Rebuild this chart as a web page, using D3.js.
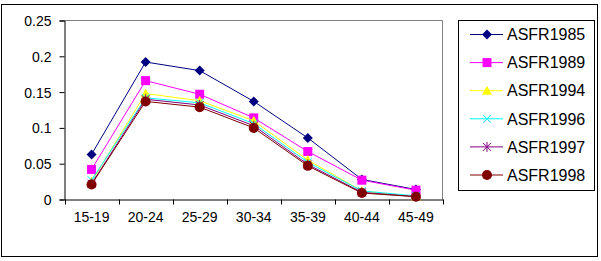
<!DOCTYPE html>
<html>
<head>
<meta charset="utf-8">
<script src="https://cdn.jsdelivr.net/npm/d3@7"></script>
<style>
  body { margin: 0; background: #fff; }
  text { font-family: "Liberation Sans", Arial, sans-serif; fill: #000; }
</style>
</head>
<body>
<svg id="chart" width="601" height="261"></svg>
<script>
// age groups and series
var ageGroups = ["15-19", "20-24", "25-29", "30-34", "35-39", "40-44", "45-49"]
var seriesNames = ["ASFR1985", "ASFR1989", "ASFR1994", "ASFR1996", "ASFR1997", "ASFR1998"]
var asfr1985 = [0.063, 0.192, 0.180, 0.137, 0.086, 0.028, 0.014]
var asfr1989 = [0.042, 0.166, 0.147, 0.114, 0.067, 0.027, 0.013]
var asfr1994 = [0.025, 0.148, 0.138, 0.110, 0.055, 0.012, 0.004]
var asfr1996 = [0.027, 0.142, 0.135, 0.106, 0.052, 0.012, 0.005]
var asfr1997 = [0.022, 0.140, 0.132, 0.103, 0.049, 0.010, 0.004]
var asfr1998 = [0.021, 0.137, 0.129, 0.100, 0.047, 0.009, 0.004]
var yTicks = [0, 0.05, 0.1, 0.15, 0.2, 0.25]

var allValues = [asfr1985, asfr1989, asfr1994, asfr1996, asfr1997, asfr1998]
var colors = ["#000080", "#ff00ff", "#ffff00", "#00ffff", "#800080", "#800000"]
var shapes = ["diamond", "square", "triangle", "cross", "star", "circle"]

var svg = d3.select("#chart")

// outer frame
svg.append("rect")
    .attr("x", 1.5).attr("y", 4.5)
    .attr("width", 596).attr("height", 252)
    .attr("fill", "none").attr("stroke", "#000")

var plot = {left: 64.5, right: 443, top: 20.5, bottom: 199.5}

var x = d3.scaleBand().domain(ageGroups).range([plot.left, plot.right])
var y = d3.scaleLinear().domain([0, 0.25]).range([plot.bottom, plot.top])

// gray top and right edges of the plot area
svg.append("path")
    .attr("d", "M" + plot.left + "," + plot.top + "H" + (plot.right - 0.5) + "V" + plot.bottom)
    .attr("fill", "none").attr("stroke", "#808080")

var yAxis = svg.append("g")
    .attr("transform", "translate(" + plot.left + ",0)")
    .call(d3.axisLeft(y).tickValues(yTicks).tickSize(5).tickPadding(8)
        .tickFormat(function(d){ return String(+d.toFixed(2)) }))
yAxis.selectAll("text").style("font-size", "14px").attr("dy", "0.35em")

var xAxis = svg.append("g")
    .attr("transform", "translate(0," + plot.bottom + ")")
    .call(d3.axisBottom(x).tickSize(0).tickPadding(13))
xAxis.selectAll("text").style("font-size", "14px")

// ticks between categories
svg.append("g").selectAll("line")
    .data(d3.range(ageGroups.length + 1))
    .enter().append("line")
    .attr("x1", function(i){ return Math.round(plot.left + i * x.step()) + 0.5 })
    .attr("x2", function(i){ return Math.round(plot.left + i * x.step()) + 0.5 })
    .attr("y1", plot.bottom).attr("y2", plot.bottom + 5)
    .attr("stroke", "#000")

svg.selectAll(".domain").attr("stroke", "#000")
svg.selectAll(".tick line").attr("stroke", "#000")

function drawMarker(g, shape, color, cx, cy) {
    if (shape == "diamond") {
        g.append("path").attr("d", "M" + cx + "," + (cy - 5) + "L" + (cx + 5) + "," + cy +
            "L" + cx + "," + (cy + 5) + "L" + (cx - 5) + "," + cy + "Z").attr("fill", color)
    } else if (shape == "square") {
        g.append("rect").attr("x", cx - 4.5).attr("y", cy - 4.5)
            .attr("width", 9).attr("height", 9).attr("fill", color)
    } else if (shape == "triangle") {
        g.append("path").attr("d", "M" + cx + "," + (cy - 5) + "L" + (cx + 5) + "," + (cy + 4) +
            "L" + (cx - 5) + "," + (cy + 4) + "Z").attr("fill", color)
    } else if (shape == "cross") {
        g.append("path").attr("d", "M" + (cx - 4) + "," + (cy - 4) + "L" + (cx + 4) + "," + (cy + 4) +
            "M" + (cx + 4) + "," + (cy - 4) + "L" + (cx - 4) + "," + (cy + 4))
            .attr("stroke", color).attr("fill", "none")
    } else if (shape == "star") {
        g.append("path").attr("d", "M" + (cx - 4) + "," + (cy - 4) + "L" + (cx + 4) + "," + (cy + 4) +
            "M" + (cx + 4) + "," + (cy - 4) + "L" + (cx - 4) + "," + (cy + 4) +
            "M" + cx + "," + (cy - 5) + "L" + cx + "," + (cy + 5))
            .attr("stroke", color).attr("fill", "none")
    } else {
        g.append("circle").attr("cx", cx).attr("cy", cy).attr("r", 5).attr("fill", color)
    }
}

var line = d3.line()
    .x(function(d, i){ return x(ageGroups[i]) + x.bandwidth() / 2 })
    .y(function(d){ return y(d) })

for (var s = 0; s < allValues.length; s++) {
    var g = svg.append("g")
    g.append("path")
        .attr("d", line(allValues[s]))
        .attr("fill", "none").attr("stroke", colors[s]).attr("stroke-width", 1)
    for (var i = 0; i < ageGroups.length; i++) {
        drawMarker(g, shapes[s], colors[s], x(ageGroups[i]) + x.bandwidth() / 2, y(allValues[s][i]))
    }
}

// legend
var legend = svg.append("g")
legend.append("rect")
    .attr("x", 458.5).attr("y", 20.5)
    .attr("width", 136).attr("height", 170)
    .attr("fill", "none").attr("stroke", "#000")

for (var s = 0; s < seriesNames.length; s++) {
    var ly = 34.5 + s * 28.1
    var lg = legend.append("g")
    lg.append("line").attr("x1", 470).attr("x2", 503).attr("y1", ly).attr("y2", ly)
        .attr("stroke", colors[s])
    drawMarker(lg, shapes[s], colors[s], 487, ly)
    lg.append("text").attr("x", 507).attr("y", ly).attr("dy", "0.36em")
        .style("font-size", "16px").text(seriesNames[s])
}
</script>
</body>
</html>
